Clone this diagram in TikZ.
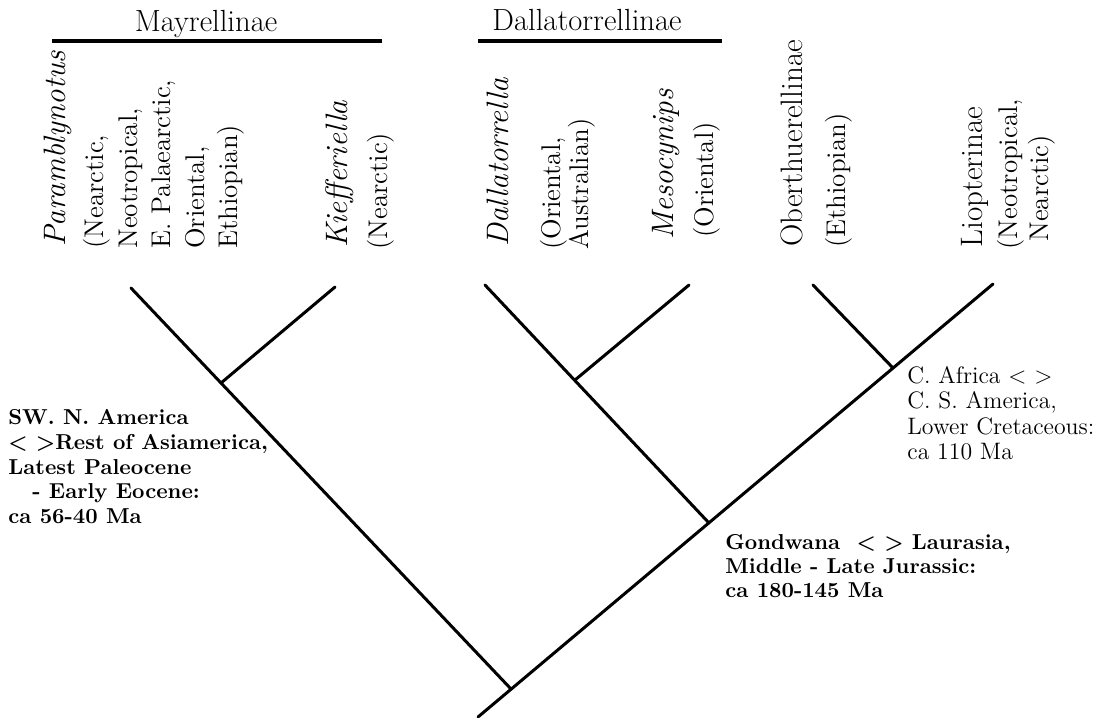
\documentclass[tikz,border=0pt]{standalone}
\tikzset{
  branch/.style={line width=1.5pt, line cap=round},
  bar/.style={line width=1.8pt},
  subfam/.style={inner sep=0pt, anchor=base, font=\fontsize{15.3}{18}\selectfont},
  taxon/.style={rotate=90, inner sep=0pt, anchor=base west, font=\fontsize{15.5}{18}\selectfont},
  distr/.style={rotate=90, inner sep=0pt, anchor=north west, align=left,
                font=\fontsize{13.5}{15.5}\selectfont},
  event/.style={inner sep=0pt, anchor=north west, align=left,
                font=\fontsize{10.8}{12.4}\selectfont\bfseries},
  eventr/.style={inner sep=0pt, anchor=north west, align=left,
                 font=\fontsize{11.9}{12.7}\selectfont},
}
\begin{document}
\begin{tikzpicture}[x=0.5pt, y=-0.5pt]
  \useasboundingbox (0,0) rectangle (1110,718);
  % tree
  \coordinate (base) at (478,717);
  \coordinate (root) at (511,689);
  \coordinate (tParam) at (131,288);
  \coordinate (nKief) at (221,383);
  \coordinate (tKief) at (335,287);
  \coordinate (tDalla) at (485,285);
  \coordinate (nDalla) at (709,523);
  \coordinate (nMeso) at (575,380);
  \coordinate (tMeso) at (689,285);
  \coordinate (tOber) at (813,285);
  \coordinate (nOber) at (893,368);
  \coordinate (tLiop) at (993,284);
  \draw[branch] (base) -- (tLiop);
  \draw[branch] (root) -- (tParam);
  \draw[branch] (nKief) -- (tKief);
  \draw[branch] (nDalla) -- (tDalla);
  \draw[branch] (nMeso) -- (tMeso);
  \draw[branch] (nOber) -- (tOber);
  % subfamily bars
  \coordinate (mayrL) at (52,41);
  \coordinate (mayrR) at (382,41);
  \coordinate (dallL) at (478,41);
  \coordinate (dallR) at (722,41);
  \draw[bar] (mayrL) -- (mayrR);
  \draw[bar] (dallL) -- (dallR);
  \node[subfam] (mayr) at (206,31) {Mayrellinae};
  \node[subfam] (dall) at (587,30) {Dallatorrellinae};
  % taxa
  \node[taxon] (param) at (65,247) {\textit{Paramblynotus}};
  \node[distr, font=\fontsize{13.5}{16.75}\selectfont] (paramD) at (83,249)
    {(Nearctic,\\Neotropical,\\E. Palaearctic,\\Oriental,\\Ethiopian)};
  \node[taxon] (kief) at (347,248) {\textit{Kiefferiella}};
  \node[distr] (kiefD) at (367,250) {(Nearctic)};
  \node[taxon] (dalla) at (508,247) {\textit{Dallatorrella}};
  \node[distr, font=\fontsize{13.5}{14}\selectfont] (dallaD) at (540,250)
    {(Oriental,\\Australian)};
  \node[taxon] (meso) at (673,240) {\textit{Mesocynips}};
  \node[distr] (mesoD) at (693,238) {(Oriental)};
  \node[taxon] (ober) at (802,247) {Oberthuerellinae};
  \node[distr] (oberD) at (825,248) {(Ethiopian)};
  \node[taxon] (liop) at (982,248) {Liopterinae};
  \node[distr] (liopD) at (997,250) {(Neotropical,\\\hspace{4pt}Nearctic)};
  % events
  \node[event] (asiam) at (8,409)
    {SW. N. America\\\textless{} \textgreater Rest of Asiamerica,\\Latest Paleocene\\
     \hspace{12pt}- Early Eocene:\\ca 56-40 Ma};
  \node[event, font=\fontsize{10.8}{12}\selectfont\bfseries] (gondw) at (725,534)
    {Gondwana \ \textless{} \textgreater{} Laurasia,\\Middle - Late Jurassic:\\ca 180-145 Ma};
  \node[eventr] (afric) at (907,366)
    {C. Africa \textless{} \textgreater\\C. S. America,\\Lower Cretaceous:\\ca 110 Ma};
\end{tikzpicture}
\end{document}
